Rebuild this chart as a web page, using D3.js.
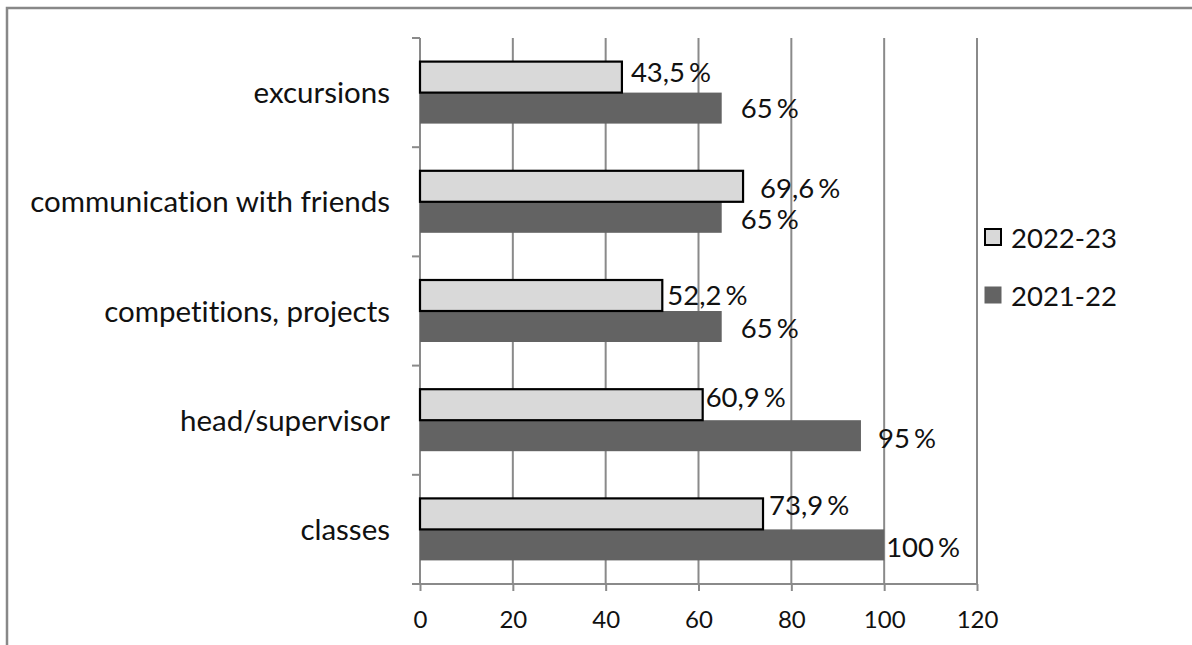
<!DOCTYPE html>
<html>
<head>
<meta charset="utf-8">
<script src="https://cdn.jsdelivr.net/npm/d3@7"></script>
<style>
  html, body { margin: 0; padding: 0; background: #fff; }
  svg { display: block; }
  text { font-family: Lato, "Liberation Sans", sans-serif; fill: #111; font-variant-ligatures: none; font-feature-settings: "liga" 0; }
</style>
</head>
<body>
<svg id="chart" width="1192" height="645"></svg>
<script>
// ---- data ----
const categories = ["excursions", "communication with friends", "competitions, projects", "head/supervisor", "classes"];
const seriesNames = ["2022-23", "2021-22"];
const values2022 = [43.5, 69.6, 52.2, 60.9, 73.9];
const values2021 = [65, 65, 65, 95, 100];
const labels2022 = ["43,5 %", "69,6 %", "52,2 %", "60,9 %", "73,9 %"];
const labels2021 = ["65 %", "65 %", "65 %", "95 %", "100 %"];
const xTicks = [0, 20, 40, 60, 80, 100, 120];

// ---- layout (label nudges as placed in the original) ----
const nudge2022 = [[9, -5], [17, 2], [5, 0], [3, -8], [6, -9]];
const nudge2021 = [[19, 0], [19, 2], [19, 2], [17, 2], [2, 2]];

const svg = d3.select("#chart");
const gridColor = "#8a8a8a";
const lightFill = "#d9d9d9";
const darkFill = "#636363";

// outer border
svg.append("rect").attr("x", 7).attr("y", 8).attr("width", 1400).attr("height", 900)
  .attr("fill", "none").attr("stroke", "#888").attr("stroke-width", 2.5);

const x = d3.scaleLinear().domain([0, 120]).range([420, 977]);
const y = d3.scaleBand().domain(categories).range([38, 584]).paddingInner(0).paddingOuter(0);
const barH = 31;

// gridlines
svg.append("g").selectAll("line").data(xTicks.filter(t => t > 0)).join("line")
  .attr("x1", d => x(d)).attr("x2", d => x(d))
  .attr("y1", y.range()[0]).attr("y2", y.range()[1])
  .attr("stroke", gridColor).attr("stroke-width", 2);

// x axis
const xAxis = d3.axisBottom(x).tickValues(xTicks).tickSize(7).tickPadding(10).tickFormat(d3.format("d"));
const gx = svg.append("g").attr("transform", `translate(0,${y.range()[1]})`).call(xAxis);
gx.select(".domain").remove();
gx.append("line").attr("x1", 412).attr("x2", x(120)).attr("y1", 0).attr("y2", 0)
  .attr("stroke", gridColor).attr("stroke-width", 2);
gx.selectAll(".tick line").attr("stroke", gridColor).attr("stroke-width", 2);
gx.selectAll(".tick text").attr("font-size", 24).attr("fill", "#111")
  .attr("font-family", "Lato, sans-serif").attr("dy", null).attr("y", 44);

// y axis line + ticks at band boundaries
const boundaries = categories.map(c => y(c)).concat([y.range()[1]]);
svg.append("line").attr("x1", x(0)).attr("x2", x(0)).attr("y1", y.range()[0]).attr("y2", y.range()[1])
  .attr("stroke", gridColor).attr("stroke-width", 2);
svg.append("g").selectAll("line").data(boundaries).join("line")
  .attr("x1", 412).attr("x2", x(0)).attr("y1", d => d).attr("y2", d => d)
  .attr("stroke", gridColor).attr("stroke-width", 2);

// category labels
svg.append("g").selectAll("text").data(categories).join("text")
  .attr("x", 390).attr("y", d => y(d) + y.bandwidth() / 2).attr("dy", "0.36em")
  .attr("text-anchor", "end").attr("font-size", 29.5).text(d => d);

const center = c => y(c) + y.bandwidth() / 2;

// dark bars (2021-22)
svg.append("g").selectAll("rect").data(categories).join("rect")
  .attr("x", x(0)).attr("y", d => center(d))
  .attr("width", (d, i) => x(values2021[i]) - x(0)).attr("height", barH)
  .attr("fill", darkFill);

// light bars (2022-23)
svg.append("g").selectAll("rect").data(categories).join("rect")
  .attr("x", x(0)).attr("y", d => center(d) - barH)
  .attr("width", (d, i) => x(values2022[i]) - x(0)).attr("height", barH)
  .attr("fill", lightFill).attr("stroke", "#000").attr("stroke-width", 2.2);

// data labels
svg.append("g").selectAll("text").data(categories).join("text")
  .attr("x", (d, i) => x(values2022[i]) + nudge2022[i][0])
  .attr("y", (d, i) => center(d) - barH / 2 + nudge2022[i][1]).attr("dy", "0.36em")
  .attr("font-size", 27.5).attr("word-spacing", -3).text((d, i) => labels2022[i]);
svg.append("g").selectAll("text").data(categories).join("text")
  .attr("x", (d, i) => x(values2021[i]) + nudge2021[i][0])
  .attr("y", (d, i) => center(d) + barH / 2 + nudge2021[i][1]).attr("dy", "0.36em")
  .attr("font-size", 27.5).attr("word-spacing", -3).text((d, i) => labels2021[i]);

// legend
const legend = svg.append("g");
const legY = [238, 296];
seriesNames.forEach((name, i) => {
  if (i === 0) {
    legend.append("rect").attr("x", 985).attr("y", legY[i] - 9).attr("width", 16).attr("height", 16)
      .attr("fill", lightFill).attr("stroke", "#000").attr("stroke-width", 2);
  } else {
    legend.append("rect").attr("x", 984.5).attr("y", legY[i] - 9.5).attr("width", 17).attr("height", 17)
      .attr("fill", darkFill);
  }
  legend.append("text").attr("x", 1011).attr("y", legY[i]).attr("dy", "0.36em")
    .attr("font-size", 27.5).text(name);
});
</script>
</body>
</html>
